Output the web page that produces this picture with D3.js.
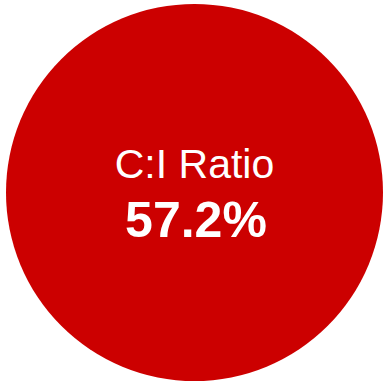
<!DOCTYPE html>
<html><head><meta charset="utf-8">
<script src="https://cdn.jsdelivr.net/npm/d3@7"></script>
<style>html,body{margin:0;padding:0;background:#fff;}svg{display:block;}</style>
</head><body>
<svg id="chart" width="384" height="384"></svg>
<script>
const labels = ["C:I Ratio"];
const values = [57.2];
const colors = ["#cc0000"];

const svg = d3.select("#chart");
const cx = 194.5, cy = 192.5, r = 188.5;
const g = svg.append("g").attr("transform", `translate(${cx},${cy})`);

const pie = d3.pie().sort(null).value(() => 1);
const arc = d3.arc().innerRadius(0).outerRadius(r);
g.selectAll("path").data(pie(values)).join("path")
  .attr("d", arc).attr("fill", (d, i) => colors[i]);

g.append("text").text(labels[0])
  .attr("x", 0).attr("y", -15)
  .attr("text-anchor", "middle")
  .attr("font-family", "Liberation Sans, Arial, sans-serif")
  .attr("font-size", 41).attr("fill", "#fff");

g.append("text").text(d3.format(".1f")(values[0]) + "%")
  .attr("x", 1.5).attr("y", 44.5)
  .attr("text-anchor", "middle")
  .attr("font-family", "Liberation Sans, Arial, sans-serif")
  .attr("font-weight", "bold")
  .attr("font-size", 50).attr("fill", "#fff");
</script>
</body></html>
